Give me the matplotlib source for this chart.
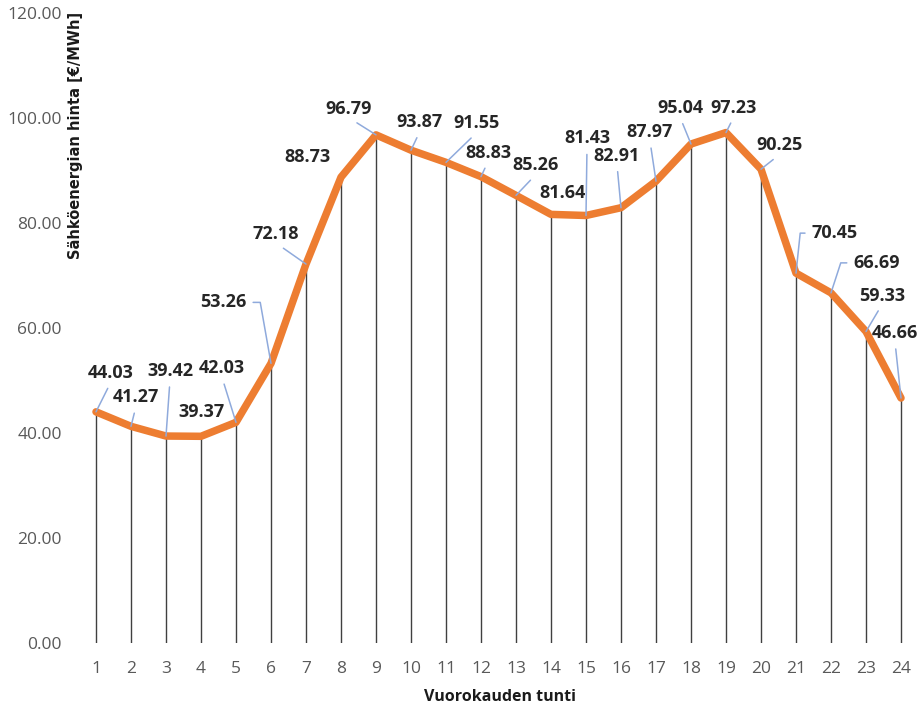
import matplotlib.pyplot as plt
import numpy as np

# data
hours = list(range(1, 25))
prices = [44.03, 41.27, 39.42, 39.37, 42.03, 53.26, 72.18, 88.73, 96.79, 93.87, 91.55, 88.83,
          85.26, 81.64, 81.43, 82.91, 87.97, 95.04, 97.23, 90.25, 70.45, 66.69, 59.33, 46.66]
yticks = [0, 20, 40, 60, 80, 100, 120]

# label placement (pixel offsets from the point) and leader line kind
lab_dx = [15, 5, 4, 1, -14, -48, -30, -33, -27, 9, 31, 7,
          20, 12, 1, -4, -6, -11, 8, 19, 39, 46, 16, -6]
lab_dy = [39, 29, 65, 24, 54, 61, 30, 20, 26, 28, 39, 24,
          30, 21, 77, 52, 49, 36, 25, 24, 40, 30, 36, 65]
leader = ['s', 's', 's', '', 's', 'L', 's', '', 's', 's', 's', 's',
          's', '', 's', 's', 's', 's', 's', 's', 'R', 'R', 's', 's']
elbow_ang = {6: 100, 21: 84, 22: 72}

fig = plt.figure(figsize=(9.2, 7.09), dpi=100)
ax = fig.add_axes([78.5/920, 1-643/709, 840/920, 630/709])

ax.vlines(hours, 0, prices, color='#404040', lw=1.0, zorder=1)
ax.plot(hours, prices, color='#ED7D31', lw=5.4, solid_joinstyle='round',
        solid_capstyle='round', zorder=3)

for i, (h, p) in enumerate(zip(hours, prices)):
    kind = leader[i]
    kw = dict(xy=(h, p), xytext=(lab_dx[i], lab_dy[i]), textcoords='offset pixels',
              ha='center', va='center', fontsize=13, fontweight='bold',
              family='Open Sans', color='#262626', zorder=5)
    if kind == 's':
        kw['arrowprops'] = dict(arrowstyle='-', color='#8FAADC', lw=1.1,
                                relpos=(0.5, 0.0), shrinkA=3, shrinkB=0)
    elif kind in ('L', 'R'):
        kw['arrowprops'] = dict(arrowstyle='-', color='#8FAADC', lw=1.1,
                                relpos=(1.0, 0.5) if kind == 'L' else (0.0, 0.5),
                                shrinkA=3, shrinkB=0,
                                connectionstyle='angle,angleA=0,angleB=%d,rad=0' % elbow_ang[h])
    ax.annotate('%.2f' % p, **kw)

ax.set_xlim(0.5, 24.5)
ax.set_ylim(0, 120)
ax.set_xticks(hours)
ax.set_xticklabels([str(h) for h in hours])
ax.set_yticks(yticks)
ax.set_yticklabels(['%.2f' % v for v in yticks])
for s in ax.spines.values():
    s.set_visible(False)
ax.tick_params(length=0, labelsize=12.5, labelcolor='#595959')
ax.tick_params(axis='y', pad=12)
ax.tick_params(axis='x', pad=13)
for t in ax.get_xticklabels() + ax.get_yticklabels():
    t.set_family('Open Sans')

fig.text(76/920, 1-12/709, 'Sähköenergian hinta [€/MWh]', rotation=90, ha='center', va='top',
         fontsize=10.5, fontweight='bold', family='DejaVu Sans', color='#1a1a1a')
fig.text(500/920, 1-697/709, 'Vuorokauden tunti', ha='center', va='center',
         fontsize=11.5, fontweight='bold', family='Open Sans', color='#1a1a1a')

plt.savefig('out.png', dpi=100)
